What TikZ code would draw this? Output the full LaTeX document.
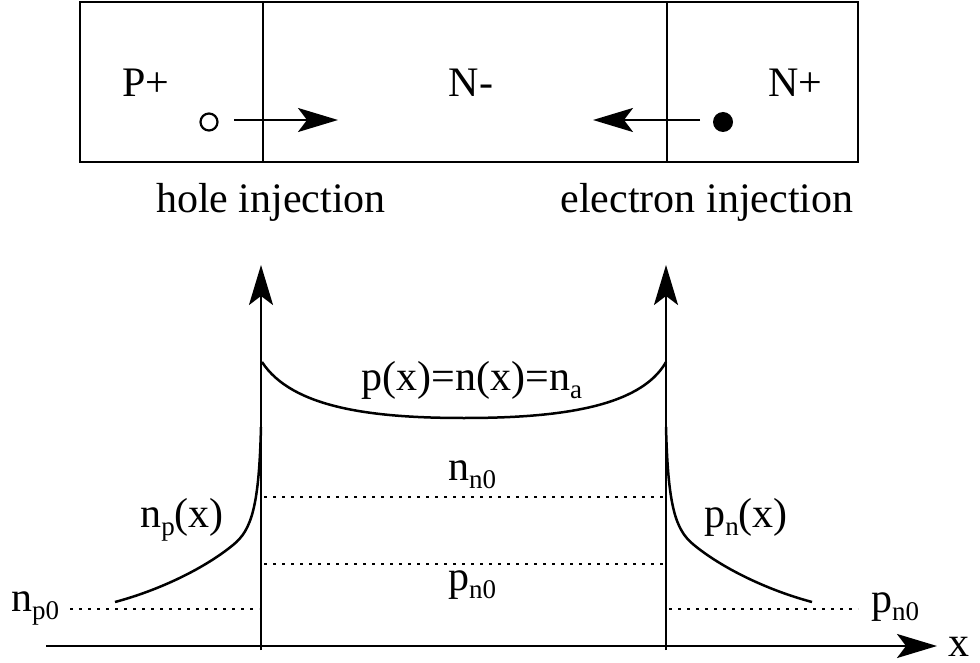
\documentclass[tikz,border=0pt]{standalone}
\usepackage{fontspec}
\setmainfont{Liberation Serif}
\usetikzlibrary{arrows.meta}
\newcommand\sbs[1]{\raisebox{-8pt}{\fontsize{27}{30}\selectfont #1}}
\begin{document}
\begin{tikzpicture}[x=1pt,y=-1pt,
  lbl/.style={inner sep=0pt,anchor=base,font=\fontsize{42}{50}\selectfont},
  solid line/.style={line width=2.2pt},
  dotline/.style={line width=2.6pt,dash pattern=on 2.6pt off 6.4pt},
  bigarrow/.style={line width=2.5pt,-{Stealth[length=40pt,width=24pt,inset=9pt]}},
  curve/.style={line width=2.5pt}]
\useasboundingbox (0,0) rectangle (980,663);
% device box
\draw[solid line] (80,2) rectangle (858,162);
\draw[solid line] (263,2) -- (263,162);
\draw[solid line] (667,2) -- (667,162);
\node[lbl] (pplus) at (146,97) {P+};
\node[lbl] (nminus) at (471,97) {N-};
\node[lbl] (nplus) at (795,97) {N+};
\node[circle,draw,line width=2.2pt,minimum size=17pt,inner sep=0pt] (hole) at (209,122) {};
\node[circle,fill,minimum size=20pt,inner sep=0pt] (elec) at (723,122) {};
\coordinate (ha) at (234,120);
\coordinate (hb) at (338,120);
\coordinate (ea) at (700,120);
\coordinate (eb) at (593,120);
\draw[bigarrow] (ha) -- (hb);
\draw[bigarrow] (ea) -- (eb);
\node[lbl] (hinj) at (271,213) {hole injection};
\node[lbl] (einj) at (707,213) {electron injection};
% axes
\coordinate (xa0) at (46,646);
\coordinate (xa1) at (937,646);
\coordinate (ya0) at (261,650);
\coordinate (ya1) at (261,265);
\coordinate (yb0) at (666,650);
\coordinate (yb1) at (666,265);
\draw[bigarrow] (xa0) -- (xa1);
\draw[bigarrow] (ya0) -- (ya1);
\draw[bigarrow] (yb0) -- (yb1);
\node[lbl] (xlab) at (959,656) {x};
% majority carrier curve
\draw[curve] (262,362) .. controls (292,408) and (372,418) .. (464,418)
  .. controls (556,418) and (640,408) .. (666,362);
\node[lbl] (pn) at (472,390) {p(x)=n(x)=n\sbs{a}};
% minority carrier curves
\draw[curve] (261,427) .. controls (259,505) and (252,530) .. (233,545)
  .. controls (205,568) and (160,590) .. (115,602);
\draw[curve] (666,427) .. controls (668,505) and (675,530) .. (694,545)
  .. controls (722,568) and (767,590) .. (812,602);
\node[lbl] (npx) at (182,527) {n\sbs{p}(x)};
\node[lbl] (pnx) at (746,527) {p\sbs{n}(x)};
% equilibrium levels
\draw[dotline] (264,497) -- (664,497);
\draw[dotline] (264,564) -- (664,564);
\draw[dotline] (70,609) -- (259,609);
\draw[dotline] (669,609) -- (858,609);
\node[lbl] (nn0) at (472,480) {n\sbs{n0}};
\node[lbl] (pn0c) at (472,590) {p\sbs{n0}};
\node[lbl] (np0) at (35,611) {n\sbs{p0}};
\node[lbl] (pn0r) at (895,612) {p\sbs{n0}};
\end{tikzpicture}
\end{document}
